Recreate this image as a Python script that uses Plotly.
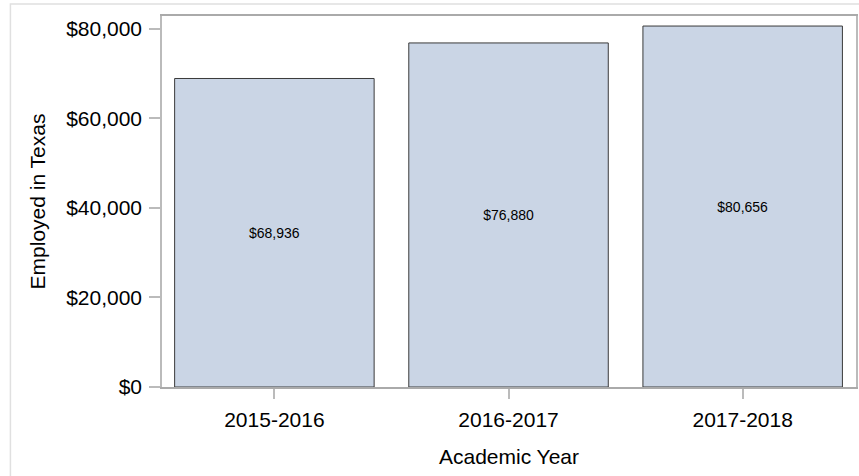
import plotly.graph_objects as go

years = ["2015-2016", "2016-2017", "2017-2018"]
salaries = [68936, 76880, 80656]
y_ticks = [0, 20000, 40000, 60000, 80000]

FONT = "Liberation Sans, Arial, sans-serif"
L, R, T, B = 162, 1, 16, 89
W, H = 859, 476
pw, ph = W - L - R, H - T - B

fig = go.Figure(go.Bar(
    x=years, y=salaries, width=0.852,
    marker=dict(color="#CAD5E5", line=dict(color="#3a3a3a", width=1)),
    text=[f"${v:,}" for v in salaries],
    textposition="inside", insidetextanchor="middle",
    textfont=dict(family=FONT, size=14, color="#000"),
    hoverinfo="skip",
))

def px_x(p):
    return (p - L) / pw

def px_y(p):
    return (H - B - p) / ph

fig.add_shape(type="rect", xref="paper", yref="paper",
              x0=px_x(10), x1=px_x(900), y0=px_y(4), y1=px_y(520),
              line=dict(color="#E0E0E0", width=1.5), layer="below")

fig.update_layout(
    width=W, height=H,
    margin=dict(l=L, r=R, t=T, b=B, pad=0),
    paper_bgcolor="white", plot_bgcolor="white",
    font=dict(family=FONT, size=21, color="#000"),
    showlegend=False,
    xaxis=dict(
        range=[-0.48, 2.484],
        showline=True, linecolor="#AAAAAA", linewidth=1.5, mirror=True,
        ticks="outside", ticklen=10, tickcolor="#BBBBBB", tickwidth=1.5,
        tickfont=dict(size=21), ticklabelstandoff=3,
        title=dict(text="Academic Year", font=dict(size=21), standoff=19),
        showgrid=False,
    ),
    yaxis=dict(
        range=[0, 82900],
        tickvals=y_ticks, ticktext=[f"${v:,}" for v in y_ticks],
        showline=True, linecolor="#BBBBBB", linewidth=1.5, mirror=True,
        ticks="outside", ticklen=11, tickcolor="#BBBBBB", tickwidth=1.5,
        tickfont=dict(size=21), ticklabelstandoff=3,
        title=dict(text="Employed in Texas", font=dict(size=21), standoff=15),
        showgrid=False, zeroline=False,
    ),
)

fig.write_html("out.html")
